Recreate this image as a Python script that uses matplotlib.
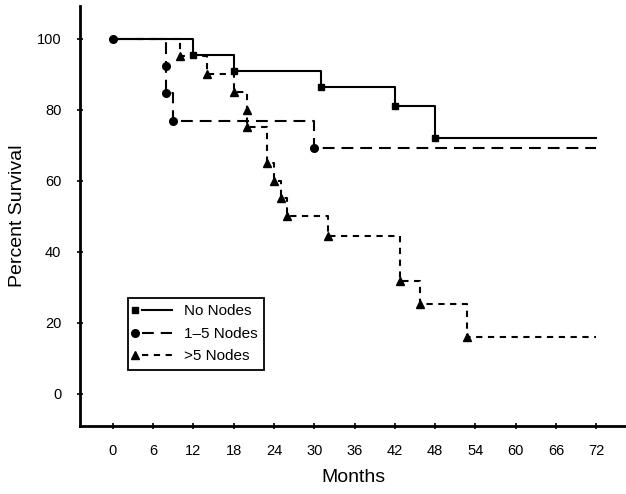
import matplotlib
matplotlib.use("Agg")
import matplotlib.pyplot as plt
from matplotlib.lines import Line2D
from matplotlib.legend_handler import HandlerBase

plt.rcParams['font.family'] = ['Liberation Sans', 'DejaVu Sans']
plt.rcParams['lines.scale_dashes'] = False

# Data (months, percent survival)
no_nodes_t = [0, 12, 18, 31, 42, 48, 72]
no_nodes_s = [100, 95.5, 91.0, 86.4, 81.1, 72.0, 72.0]

n15_t = [0, 8, 8, 9, 30, 72]
n15_s = [100, 92.3, 84.6, 76.9, 69.2, 69.2]

n5_t = [0, 10, 14, 18, 20, 20, 23, 24, 25, 26, 32, 42.7, 45.7, 52.7, 72]
n5_s = [100, 95, 90, 85, 80, 75, 65, 60, 55, 50, 44.5, 31.8, 25.4, 15.9, 15.9]

labels = ["No Nodes", "1\u20135 Nodes", ">5 Nodes"]
xticks = list(range(0, 73, 6))
yticks = list(range(0, 101, 20))

fig = plt.figure(figsize=(6.26, 4.94), dpi=100)
ax = fig.add_axes([80/626, 68/494, 546/626, 420/494])

lw = 1.5
series = [
    (no_nodes_t, no_nodes_s, 's', 4.5, None, slice(1, -1)),
    (n15_t, n15_s, 'o', 5.5, (8.5, 5), slice(0, -1)),
    (n5_t, n5_s, '^', 5.5, (4.5, 4), slice(1, -1)),
]
handles = []
for (t, s, mk, ms, dash, sl), lab in zip(series, labels):
    if dash is None:
        ax.step(t, s, where='post', color='black', lw=lw)
    else:
        ax.step(t, s, where='post', color='black', lw=lw, dashes=dash)
    ax.plot(t[sl], s[sl], linestyle='none', marker=mk, ms=ms, color='black')
    handles.append(Line2D([], [], color='black', lw=lw, marker=mk, ms=ms))


class LeftMarkerHandler(HandlerBase):
    def __init__(self, dash=None, **kw):
        super().__init__(**kw)
        self.dash = dash

    def create_artists(self, legend, orig_handle, xdescent, ydescent,
                       width, height, fontsize, trans):
        x0 = -xdescent
        x1 = width - xdescent
        y = (height - ydescent) / 2
        line = Line2D([x0 + 5, x1], [y, y], color='black', lw=orig_handle.get_linewidth())
        if self.dash is not None:
            line.set_dashes(self.dash)
        marker = Line2D([x0], [y], linestyle='none', marker=orig_handle.get_marker(),
                        ms=orig_handle.get_markersize(), color='black')
        line.set_transform(trans)
        marker.set_transform(trans)
        return [line, marker]


hmap = {h: LeftMarkerHandler(s[4]) for h, s in zip(handles, series)}

leg = ax.legend(handles, labels, loc='lower left',
                bbox_to_anchor=(0.088, 0.133), fontsize=11,
                handler_map=hmap,
                handlelength=2.4, handletextpad=0.8, labelspacing=0.55,
                borderpad=0.45, borderaxespad=0, fancybox=False,
                edgecolor='black', framealpha=1)
leg.get_frame().set_linewidth(1.3)

ax.set_xlim(-4.86, 76.4)
ax.set_ylim(-9.07, 109.2)
ax.set_xticks(xticks)
ax.set_yticks(yticks)
ax.tick_params(direction='inout', length=5, width=1.2, labelsize=10.5, colors='black')
ax.tick_params(axis='y', pad=11)
ax.tick_params(axis='x', pad=10.5)
for side in ['top', 'right']:
    ax.spines[side].set_visible(False)
for side in ['left', 'bottom']:
    ax.spines[side].set_linewidth(2)

ax.set_xlabel("Months", fontsize=14, labelpad=8)
ax.set_ylabel("Percent Survival", fontsize=14, labelpad=8)

fig.savefig("out.png", dpi=100)
